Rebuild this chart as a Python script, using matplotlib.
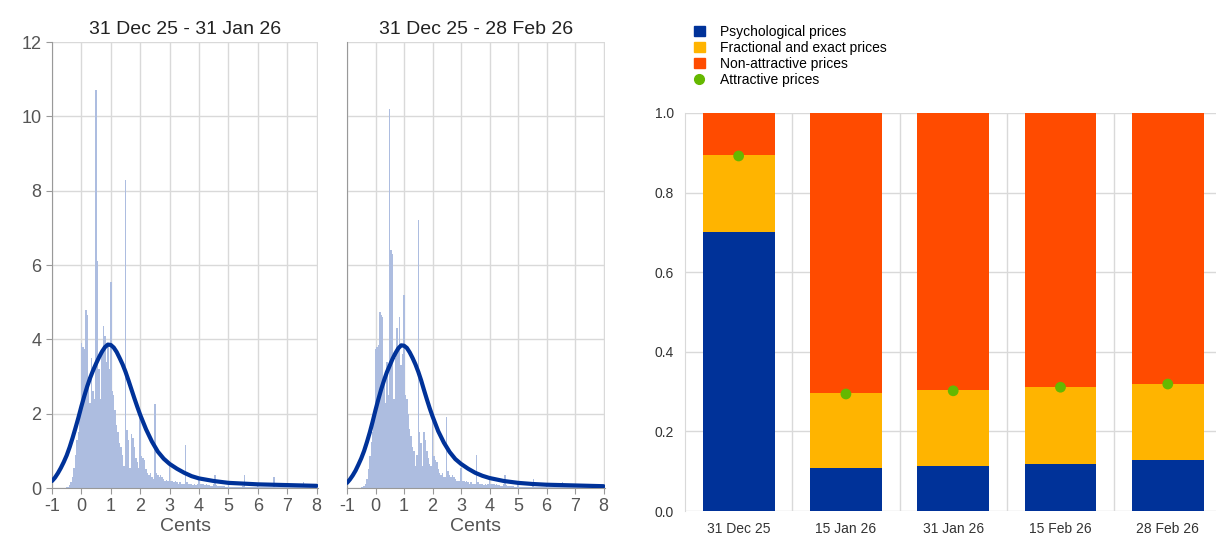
import matplotlib
matplotlib.use("Agg")
import matplotlib.pyplot as plt
import numpy as np
from matplotlib.lines import Line2D
from matplotlib.patches import Patch

plt.rcParams['font.family'] = ['Liberation Sans', 'DejaVu Sans']
plt.rcParams['axes.unicode_minus'] = False

# ---------------- data ----------------
# histogram bins: centres from -0.5 to 8.0 cents, step 0.05
bin_start = -0.5
bin_width = 0.05

hist1_neg = [0.02, 0.04, 0.08, 0.15, 0.3, 0.55, 0.9, 1.3, 1.5, 2.0]
hist1_c0 = [3.9, 3.8, 3.75, 4.8, 4.65, 3.0, 2.3, 3.5, 2.6, 2.4, 10.7, 6.1, 3.2, 2.4, 3.6, 4.35, 4.1, 3.4, 3.9, 3.2]
hist1_c1 = [5.55, 2.6, 2.5, 2.1, 1.7, 1.5, 1.2, 1.1, 0.9, 0.6, 8.3, 1.55, 1.3, 0.55, 1.45, 1.35, 1.1, 0.8, 0.7, 0.55]
hist1_c2 = [2.0, 0.85, 0.8, 0.75, 0.5, 0.4, 0.35, 0.4, 0.3, 0.25, 2.25, 0.4, 0.35, 0.3, 0.35, 0.3, 0.25, 0.2, 0.22, 0.2]
hist1_c3 = [0.6, 0.2, 0.18, 0.15, 0.2, 0.15, 0.12, 0.15, 0.1, 0.12, 0.12, 1.15, 0.15, 0.12, 0.1, 0.1, 0.08, 0.1, 0.08, 0.1]
hist1_c4 = [0.3, 0.12, 0.1, 0.1, 0.08, 0.1, 0.08, 0.07, 0.06, 0.06, 0.1, 0.35, 0.08, 0.06, 0.05, 0.05, 0.05, 0.05, 0.04, 0.04]
hist1_c5 = [0.1, 0.04, 0.04, 0.04, 0.04, 0.04, 0.04, 0.04, 0.04, 0.04, 0.05, 0.35, 0.04, 0.03, 0.03, 0.03, 0.03, 0.03, 0.03, 0.03]
hist1_c6 = [0.08, 0.03, 0.03, 0.03, 0.03, 0.03, 0.03, 0.03, 0.03, 0.03, 0.04, 0.3, 0.03, 0.02, 0.02, 0.02, 0.02, 0.02, 0.02, 0.02]
hist1_c7 = [0.05, 0.02, 0.02, 0.02, 0.02, 0.02, 0.02, 0.02, 0.02, 0.02, 0.03, 0.15, 0.02, 0.02, 0.02, 0.02, 0.02, 0.02, 0.02, 0.02]
hist1_c8 = [0.03]

hist2_neg = [0.02, 0.03, 0.06, 0.12, 0.25, 0.5, 0.85, 1.25, 1.5, 1.9]
hist2_c0 = [3.75, 3.8, 3.85, 4.75, 4.65, 4.6, 2.9, 2.3, 3.4, 2.5, 10.2, 6.4, 6.3, 2.4, 3.5, 4.3, 3.8, 4.6, 3.3, 3.6]
hist2_c1 = [5.2, 2.5, 2.4, 2.0, 1.6, 1.4, 1.1, 1.0, 0.6, 0.9, 7.2, 1.5, 1.2, 0.6, 1.5, 1.3, 1.0, 0.8, 0.65, 0.6]
hist2_c2 = [2.0, 0.85, 0.75, 0.7, 0.5, 0.4, 0.35, 0.4, 0.3, 0.3, 1.9, 0.45, 0.35, 0.3, 0.35, 0.3, 0.25, 0.2, 0.2, 0.2]
hist2_c3 = [0.55, 0.2, 0.18, 0.15, 0.2, 0.15, 0.12, 0.15, 0.1, 0.12, 0.12, 0.9, 0.15, 0.12, 0.1, 0.1, 0.08, 0.1, 0.08, 0.1]
hist2_c4 = [0.3, 0.12, 0.1, 0.1, 0.08, 0.1, 0.08, 0.07, 0.06, 0.06, 0.1, 0.35, 0.08, 0.06, 0.05, 0.05, 0.05, 0.05, 0.04, 0.04]
hist2_c5 = [0.1, 0.04, 0.04, 0.04, 0.04, 0.04, 0.04, 0.04, 0.04, 0.04, 0.05, 0.25, 0.04, 0.03, 0.03, 0.03, 0.03, 0.03, 0.03, 0.03]
hist2_c6 = [0.06, 0.03, 0.03, 0.03, 0.03, 0.03, 0.03, 0.03, 0.03, 0.03, 0.04, 0.15, 0.03, 0.02, 0.02, 0.02, 0.02, 0.02, 0.02, 0.02]
hist2_c7 = [0.04, 0.02, 0.02, 0.02, 0.02, 0.02, 0.02, 0.02, 0.02, 0.02, 0.03, 0.1, 0.02, 0.02, 0.02, 0.02, 0.02, 0.02, 0.02, 0.02]
hist2_c8 = [0.02]

curve_x = [-1, -0.9, -0.8, -0.7, -0.6, -0.5, -0.4, -0.3, -0.2, -0.1, 0, 0.1, 0.2, 0.3, 0.4,
           0.5, 0.6, 0.7, 0.8, 0.9, 1.0, 1.1, 1.2, 1.3, 1.4, 1.5, 1.6, 1.7, 1.8, 1.9,
           2.0, 2.2, 2.4, 2.6, 2.8, 3.0, 3.25, 3.5, 3.75, 4.0, 4.5, 5.0, 5.5, 6.0, 7.0, 8.0]
curve1_y = [0.19, 0.28, 0.4, 0.54, 0.7, 0.88, 1.1, 1.35, 1.62, 1.9, 2.2, 2.48, 2.74, 2.97, 3.17,
            3.35, 3.52, 3.67, 3.79, 3.86, 3.85, 3.78, 3.66, 3.5, 3.33, 3.13, 2.9, 2.66, 2.42, 2.19,
            1.97, 1.58, 1.25, 0.98, 0.79, 0.65, 0.52, 0.41, 0.32, 0.26, 0.19, 0.14, 0.12, 0.1, 0.08, 0.06]
curve2_y = [0.14, 0.23, 0.34, 0.47, 0.63, 0.8, 1.0, 1.24, 1.5, 1.79, 2.1, 2.39, 2.66, 2.9, 3.12,
            3.3, 3.48, 3.63, 3.76, 3.84, 3.83, 3.77, 3.65, 3.5, 3.33, 3.13, 2.9, 2.64, 2.39, 2.15,
            1.93, 1.53, 1.22, 0.97, 0.78, 0.65, 0.52, 0.41, 0.33, 0.27, 0.19, 0.14, 0.11, 0.09, 0.07, 0.05]

panel_titles = ["31 Dec 25 - 31 Jan 26", "31 Dec 25 - 28 Feb 26"]

dates = ["31 Dec 25", "15 Jan 26", "31 Jan 26", "15 Feb 26", "28 Feb 26"]
psychological = [0.70, 0.108, 0.113, 0.119, 0.128]
fractional = [0.195, 0.188, 0.190, 0.193, 0.191]
attractive = [0.892, 0.294, 0.302, 0.311, 0.319]
series_names = ["Psychological prices", "Fractional and exact prices",
                "Non-attractive prices", "Attractive prices"]

# ---------------- styles ----------------
C_BLUE = "#003299"
C_YELLOW = "#FFB400"
C_ORANGE = "#FF4B00"
C_GREEN = "#65B800"
C_HIST = "#adbde0"
C_GRID = "#d9d9d9"
C_TXT = "#555555"

fig = plt.figure(figsize=(12.18, 5.49), dpi=100)

hist1 = hist1_neg + hist1_c0 + hist1_c1 + hist1_c2 + hist1_c3 + hist1_c4 + hist1_c5 + hist1_c6 + hist1_c7 + hist1_c8
hist2 = hist2_neg + hist2_c0 + hist2_c1 + hist2_c2 + hist2_c3 + hist2_c4 + hist2_c5 + hist2_c6 + hist2_c7 + hist2_c8

ax1 = fig.add_axes([0.0427, 0.111, 0.2184, 0.8124])
ax2 = fig.add_axes([0.2849, 0.111, 0.2118, 0.8124])

for ax, hist, cy, title in [(ax1, hist1, curve1_y, panel_titles[0]),
                            (ax2, hist2, curve2_y, panel_titles[1])]:
    centres = bin_start + bin_width * np.arange(len(hist))
    ax.bar(centres, hist, width=bin_width, color=C_HIST, edgecolor="none", zorder=2)
    ax.plot(curve_x, cy, color=C_BLUE, lw=3.0, zorder=3, solid_capstyle="round",
            solid_joinstyle="round")
    ax.set_xlim(-1, 8.05)
    ax.set_ylim(0, 12)
    ax.set_xticks(range(-1, 9))
    ax.set_yticks(range(0, 13, 2))
    ax.grid(True, color=C_GRID, lw=1.0, zorder=0)
    ax.set_axisbelow(True)
    for s in ["top", "right"]:
        ax.spines[s].set_visible(False)
    ax.spines["left"].set_color("#999999")
    ax.spines["bottom"].set_color("#999999")
    ax.tick_params(axis="x", colors="#999999", labelcolor=C_TXT, labelsize=13, length=4)
    ax.tick_params(axis="y", colors="#999999", labelcolor=C_TXT, labelsize=13, length=4)
    ax.set_xlabel("Cents", fontsize=14, color=C_TXT, labelpad=2)
    ax.set_title(title, fontsize=14, color="#222222", pad=6)

ax2.tick_params(axis="y", labelleft=False, length=0)

# ---------------- stacked bars ----------------
ax3 = fig.add_axes([0.5624, 0.0692, 0.436, 0.725])
x = np.arange(len(dates))
nonattr = [1 - p - f for p, f in zip(psychological, fractional)]
bw = 0.67
ax3.bar(x, psychological, width=bw, color=C_BLUE, zorder=2)
ax3.bar(x, fractional, width=bw, bottom=psychological, color=C_YELLOW, zorder=2)
bottom2 = [p + f for p, f in zip(psychological, fractional)]
ax3.bar(x, nonattr, width=bw, bottom=bottom2, color=C_ORANGE, zorder=2)
ax3.scatter(x, attractive, s=60, color=C_GREEN, zorder=3, edgecolors="none")
ax3.set_xlim(-0.5, 4.45)
ax3.set_ylim(0, 1.0)
ax3.set_yticks(np.arange(0, 1.01, 0.2))
ax3.set_yticklabels([f"{v:.1f}" for v in np.arange(0, 1.01, 0.2)])
ax3.set_xticks(x)
ax3.set_xticklabels(dates)
ax3.set_xticks(np.arange(0.5, 4, 1), minor=True)
ax3.grid(True, axis="y", color=C_GRID, lw=1.0, zorder=0)
ax3.grid(True, axis="x", which="minor", color=C_GRID, lw=1.0, zorder=0)
ax3.set_axisbelow(True)
for s in ["top", "right", "bottom"]:
    ax3.spines[s].set_visible(False)
ax3.spines["left"].set_color(C_GRID)
ax3.tick_params(axis="both", which="both", length=0, labelsize=10, colors="#333333")
ax3.tick_params(axis="x", pad=8)
ax3.tick_params(axis="y", pad=8)

handles = [Patch(color=C_BLUE), Patch(color=C_YELLOW), Patch(color=C_ORANGE),
           Line2D([], [], marker="o", ls="none", color=C_GREEN, markersize=7)]
fig.legend(handles, series_names, loc="upper left", bbox_to_anchor=(0.565, 0.965),
           frameon=False, fontsize=10, handlelength=0.8, handleheight=0.75,
           handletextpad=1.1, labelspacing=0.15, borderaxespad=0)

fig.savefig("out.png", dpi=100)
